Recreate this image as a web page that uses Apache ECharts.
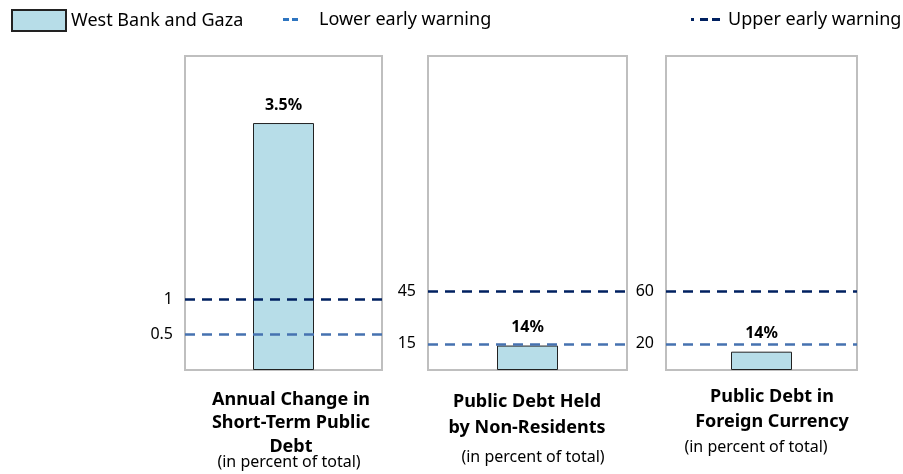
<!DOCTYPE html>
<html>
<head>
<meta charset="utf-8">
<script src="https://cdn.jsdelivr.net/npm/echarts@6/dist/echarts.min.js"></script>
<style>
  html, body { margin: 0; padding: 0; background: #fff; }
  #chart { width: 903px; height: 474px; }
</style>
</head>
<body>
<div id="chart"></div>
<script>
// panel titles and values
const titles = ['Annual Change in\nShort-Term Public\nDebt', 'Public Debt Held\nby Non-Residents', 'Public Debt in\nForeign Currency'];
const subtitle = '(in percent of total)';
const barValues = [3.5, 14, 14];
const lowerWarning = [0.5, 15, 20];
const upperWarning = [1, 45, 60];
const axisMax = [4.45, 180, 240];

const FONT = 'Noto Sans';
const chart = echarts.init(document.getElementById('chart'));

// panel boxes (left, width)
const boxes = [[185, 197], [428, 199], [666, 191]];
const titlePos = [
    { x: 291, top: 388, lh: 23.5, sx: 289, stop: 453 },
    { x: 527, top: 389, lh: 26, sx: 533, stop: 448 },
    { x: 772, top: 384, lh: 25, sx: 756, stop: 438 }
];

const grid = boxes.map(b => ({
    left: b[0], width: b[1], top: 56, height: 314,
    show: true, borderColor: '#bfbfbf', borderWidth: 2, backgroundColor: 'transparent'
}));

const xAxis = boxes.map((b, i) => ({
    type: 'category', gridIndex: i, data: ['x'], show: false
}));
const yAxis = boxes.map((b, i) => ({
    type: 'value', gridIndex: i, min: 0, max: axisMax[i], show: false
}));

const lineLabel = {
    show: true, position: 'start', distance: 12, formatter: '{c}',
    color: '#000', fontFamily: FONT, fontSize: 16
};

const series = [];
barValues.forEach((v, i) => {
    series.push({
        name: 'West Bank and Gaza',
        type: 'bar',
        xAxisIndex: i, yAxisIndex: i,
        barWidth: 61,
        data: [v],
        itemStyle: { color: '#b7dde8', borderColor: '#222', borderWidth: 1 },
        label: {
            show: true, position: 'top', distance: 10,
            formatter: p => p.value + '%',
            color: '#000', fontFamily: FONT, fontWeight: 'bold', fontSize: 16
        },
        z: 2
    });
    series.push({
        name: 'Lower early warning',
        type: 'line',
        xAxisIndex: i, yAxisIndex: i,
        data: [],
        itemStyle: { color: '#4672b0' },
        markLine: {
            silent: true, symbol: 'none',
            data: [{ yAxis: lowerWarning[i] }],
            lineStyle: { color: '#4672b0', type: [10, 7], width: 2.5 },
            label: lineLabel
        },
        z: 3
    });
    series.push({
        name: 'Upper early warning',
        type: 'line',
        xAxisIndex: i, yAxisIndex: i,
        data: [],
        itemStyle: { color: '#002060' },
        markLine: {
            silent: true, symbol: 'none',
            data: [{ yAxis: upperWarning[i] }],
            lineStyle: { color: '#002060', type: [10, 7], width: 2.5 },
            label: lineLabel
        },
        z: 3
    });
});

const legendText = { fontFamily: FONT, fontSize: 18, color: '#000', lineHeight: 21 };

const title = [];
titles.forEach((t, i) => {
    const p = titlePos[i];
    title.push({
        text: t, left: p.x, top: p.top, textAlign: 'center', padding: 0,
        textStyle: { fontFamily: FONT, fontWeight: 'bold', fontSize: 18, color: '#000', lineHeight: p.lh, align: 'center' }
    });
    title.push({
        text: subtitle, left: p.sx, top: p.stop, textAlign: 'center', padding: 0,
        textStyle: { fontFamily: FONT, fontWeight: 'normal', fontSize: 16, color: '#000', lineHeight: 18 }
    });
});

chart.setOption({
    animation: false,
    title: title,
    legend: [
        {
            left: 11, top: 9, padding: 0, itemWidth: 54, itemHeight: 21,
            data: [{ name: 'West Bank and Gaza', icon: 'rect' }],
            textStyle: legendText, selectedMode: false
        },
        {
            left: 283, top: 9, padding: 0, itemWidth: 15, itemHeight: 3,
            data: [{
                name: 'Lower early warning',
                icon: 'path://M0,0h6v3h-6z M9,0h6v3h-6z',
                itemStyle: { color: '#2e75c0', borderWidth: 0 }
            }],
            textStyle: Object.assign({}, legendText, { padding: [0, 0, 0, 16] }), selectedMode: false
        },
        {
            left: 691, top: 9, padding: 0, itemWidth: 29, itemHeight: 3,
            data: [{
                name: 'Upper early warning',
                icon: 'path://M0,0h3v3h-3z M9,0h8v3h-8z M21,0h8v3h-8z',
                itemStyle: { color: '#002060', borderWidth: 0 }
            }],
            textStyle: Object.assign({}, legendText, { padding: [0, 0, 0, 3] }), selectedMode: false
        }
    ],
    grid: grid,
    xAxis: xAxis,
    yAxis: yAxis,
    series: series
});
</script>
</body>
</html>
